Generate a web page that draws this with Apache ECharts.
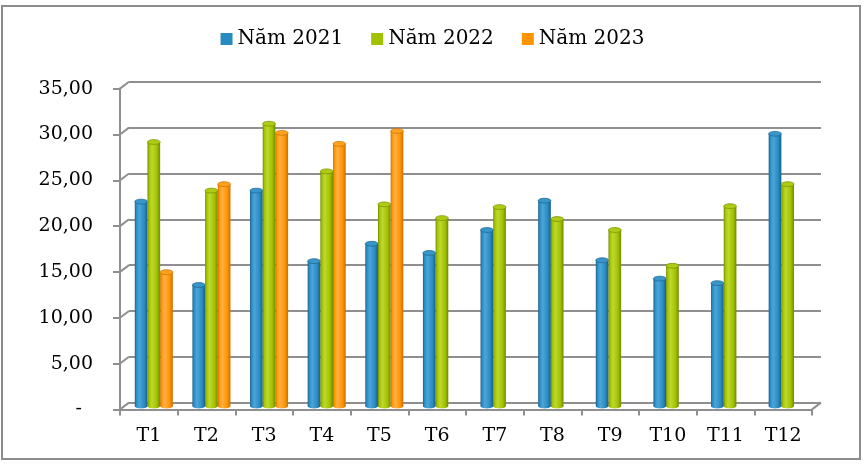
<!DOCTYPE html>
<html>
<head>
<meta charset="utf-8">
<script src="https://cdn.jsdelivr.net/npm/echarts@6/dist/echarts.min.js"></script>
<style>
  html, body { margin: 0; padding: 0; background: #fff; }
  #chart { width: 865px; height: 464px; }
</style>
</head>
<body>
<div id="chart"></div>
<script>
// du lieu theo thang
var MONTHS = ['T1', 'T2', 'T3', 'T4', 'T5', 'T6', 'T7', 'T8', 'T9', 'T10', 'T11', 'T12'];
var Y2021 = [22.3, 13.2, 23.5, 15.8, 17.7, 16.7, 19.2, 22.4, 15.9, 13.9, 13.4, 29.7];
var Y2022 = [28.8, 23.5, 30.8, 25.6, 22.0, 20.5, 21.7, 20.4, 19.2, 15.3, 21.8, 24.2];
var Y2023 = [14.6, 24.2, 29.8, 28.6, 30.0, null, null, null, null, null, null, null];
var Y_TICKS = [0, 5, 10, 15, 20, 25, 30, 35];

var FONT = 'DejaVu Serif';
var GRID_COLOR = '#8f8f8f';
var DEPTH_X = 9, DEPTH_Y = 6.8;   // do sau cua khung 3D

var myChart = echarts.init(document.getElementById('chart'));

// mau cua tung cot tru: [toi, chinh, sang, mat tren, vien]
var PALETTE = {
    '2021': ['#1a5e86', '#2a8bc3', '#4ba6d8', '#3a95ca', '#1d6a96'],
    '2022': ['#6f8a00', '#a2c100', '#bdd92e', '#afcb14', '#7c9600'],
    '2023': ['#c86e00', '#ff9400', '#ffb048', '#ffa21f', '#d07400']
};

function pairs(arr) {
    return arr.map(function (v, i) { return [i, v]; });
}

// ve cot hinh tru
function cylinder(slot, pal) {
    return function (params, api) {
        var v = api.value(1);
        if (v == null || isNaN(v)) return;
        var top = api.coord([api.value(0), v]);
        var base = api.coord([api.value(0), 0]);
        var band = api.size([1, 0])[0];
        var w = band * 0.22;
        var cx = top[0] + (slot - 1) * w;
        var ry = 2.4;
        var grad = new echarts.graphic.LinearGradient(0, 0, 1, 0, [
            {offset: 0, color: pal[0]},
            {offset: 0.12, color: pal[1]},
            {offset: 0.35, color: pal[2]},
            {offset: 0.75, color: pal[1]},
            {offset: 1, color: pal[0]}
        ]);
        return {
            type: 'group',
            children: [
                {type: 'rect', shape: {x: cx - w / 2, y: top[1], width: w, height: base[1] - top[1]}, style: {fill: grad}},
                {type: 'ellipse', shape: {cx: cx, cy: base[1], rx: w / 2, ry: ry}, style: {fill: grad}},
                {type: 'ellipse', shape: {cx: cx, cy: top[1], rx: w / 2, ry: ry}, style: {fill: pal[3], stroke: pal[4], lineWidth: 0.8}}
            ]
        };
    };
}

function barSeries(name, data, slot) {
    var pal = PALETTE[name.slice(-4)];
    return {
        name: name,
        type: 'custom',
        xAxisIndex: 2,
        yAxisIndex: 2,
        itemStyle: {color: pal[1]},
        encode: {x: 0, y: 1},
        data: pairs(data),
        renderItem: cylinder(slot, pal),
        z: 5
    };
}

var option = {
    animation: false,
    textStyle: {fontFamily: FONT},
    graphic: [{
        type: 'rect',
        shape: {x: 2, y: 6, width: 858, height: 453},
        style: {fill: 'none', stroke: '#8c8c8c', lineWidth: 2},
        silent: true
    }],
    legend: {
        data: ['Năm 2021', 'Năm 2022', 'Năm 2023'],
        top: 24,
        left: 'center',
        icon: 'rect',
        itemWidth: 12,
        itemHeight: 12,
        itemGap: 28,
        textStyle: {fontFamily: FONT, fontSize: 20, color: '#000'}
    },
    grid: [
        {left: 129, right: 44, top: 81.8, bottom: 61.4},   // tuong sau
        {left: 120, right: 53, top: 88.6, bottom: 54.6},   // mat truoc
        {left: 125, right: 48.5, top: 85.2, bottom: 58}    // cot
    ],
    xAxis: [
        {type: 'category', gridIndex: 0, data: MONTHS, show: false},
        {
            type: 'category', gridIndex: 1, data: MONTHS,
            axisLine: {lineStyle: {color: GRID_COLOR, width: 2}},
            axisTick: {show: true, interval: 0, length: 6, lineStyle: {color: GRID_COLOR, width: 2}},
            axisLabel: {fontFamily: FONT, fontSize: 19, color: '#000', margin: 17, interval: 0}
        },
        {type: 'category', gridIndex: 2, data: MONTHS, show: false}
    ],
    yAxis: [
        {
            type: 'value', gridIndex: 0, min: 0, max: 35, interval: 5,
            axisLine: {show: false}, axisTick: {show: false}, axisLabel: {show: false},
            splitLine: {lineStyle: {color: GRID_COLOR, width: 2}}
        },
        {
            type: 'value', gridIndex: 1, min: 0, max: 35, interval: 5,
            splitLine: {show: false},
            axisLine: {show: true, lineStyle: {color: GRID_COLOR, width: 2}},
            axisTick: {show: true, length: 7, lineStyle: {color: GRID_COLOR, width: 2}},
            axisLabel: {
                fontFamily: FONT, fontSize: 19, color: '#000', margin: 27,
                formatter: function (v) {
                    if (v === 0) return '{d|-}';
                    return v.toFixed(2).replace('.', ',');
                },
                rich: {d: {fontFamily: FONT, fontSize: 19, color: '#000', padding: [0, 11, 0, 0]}}
            }
        },
        {type: 'value', gridIndex: 2, min: 0, max: 35, show: false}
    ],
    series: [
        barSeries('Năm 2021', Y2021, 0),
        barSeries('Năm 2022', Y2022, 1),
        barSeries('Năm 2023', Y2023, 2),
        {
            // duong cheo noi mat truoc voi tuong sau
            type: 'custom',
            xAxisIndex: 0,
            yAxisIndex: 0,
            silent: true,
            data: Y_TICKS.map(function (t) { return [0, t]; }),
            encode: {x: 0, y: 1},
            renderItem: function (params, api) {
                var cs = params.coordSys;
                var y = api.coord([0, api.value(1)])[1];
                var style = {stroke: GRID_COLOR, lineWidth: 2};
                var kids = [{type: 'line', shape: {x1: cs.x - DEPTH_X, y1: y + DEPTH_Y, x2: cs.x, y2: y}, style: style}];
                if (api.value(1) === 0) {
                    kids.push({type: 'line', shape: {x1: cs.x + cs.width - DEPTH_X, y1: y + DEPTH_Y, x2: cs.x + cs.width, y2: y}, style: style});
                }
                return {type: 'group', children: kids};
            },
            z: 1
        }
    ]
};

myChart.setOption(option);
</script>
</body>
</html>
